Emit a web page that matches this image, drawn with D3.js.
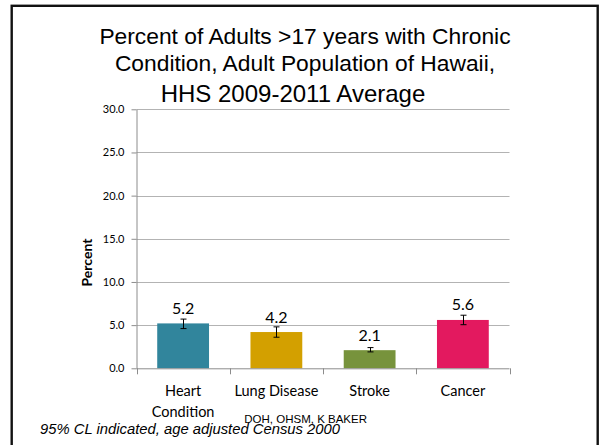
<!DOCTYPE html>
<html><head><meta charset="utf-8">
<script src="https://cdn.jsdelivr.net/npm/d3@7"></script>
<style>body{margin:0;background:#fff}svg{display:block}</style>
</head><body>
<svg id="c" width="600" height="445"></svg>
<script>
const categories = [["Heart", "Condition"], ["Lung Disease"], ["Stroke"], ["Cancer"]];
const values = [5.2, 4.2, 2.1, 5.6];
const ciLower = [4.6, 3.6, 1.9, 5.05];
const ciUpper = [5.7, 4.8, 2.4, 6.15];
const colors = ["#31859C", "#D3A000", "#77933C", "#E3195F"];
const yTicks = [0, 5, 10, 15, 20, 25, 30];
const titleLines = ["Percent of Adults >17 years with Chronic", "Condition, Adult Population of Hawaii,", "HHS 2009-2011 Average"];

(function () {
const svg = d3.select("#c");
// slide frame
svg.append("rect").attr("x", 11.7).attr("y", 5.8).attr("width", 586).attr("height", 460)
  .attr("fill", "none").attr("stroke", "#111").attr("stroke-width", 2.4);

const pLeft = 136.5, pRight = 509.5, pTop = 109.3, pBottom = 368.3;
const keys = categories.map((c, i) => i);
const x = d3.scaleBand().domain(keys).range([pLeft, pRight]).padding(0);
const y = d3.scaleLinear().domain([0, 30]).range([pBottom, pTop]);

// gridlines
svg.append("g").selectAll("line").data(yTicks.filter(t => t > 0)).join("line")
  .attr("x1", pLeft).attr("x2", pRight).attr("y1", d => Math.round(y(d)) + 0.5).attr("y2", d => Math.round(y(d)) + 0.5)
  .attr("stroke", "#B3B3B3").attr("stroke-width", 1);

// y axis
const yAxis = svg.append("g").attr("transform", `translate(${pLeft},0)`)
  .call(d3.axisLeft(y).tickValues(yTicks).tickSize(5).tickSizeOuter(0).tickPadding(7).tickFormat(d3.format(".1f")));
yAxis.select(".domain").attr("stroke", "#8C8C8C");
yAxis.selectAll(".tick line").attr("stroke", "#8C8C8C");
yAxis.selectAll("text").attr("font-family", "Lato, sans-serif").attr("font-size", 11).attr("fill", "#000");

// bars
const bw = x.bandwidth() / 1.8;
const off = (x.bandwidth() - bw) / 2;
svg.append("g").selectAll("rect").data(keys).join("rect")
  .attr("x", i => x(i) + off).attr("width", bw)
  .attr("y", i => y(values[i])).attr("height", i => y(0) - y(values[i]))
  .attr("fill", i => colors[i]);

// error bars
const eb = svg.append("g").attr("stroke", "#000").attr("stroke-width", 1);
keys.forEach(i => {
  const cx = Math.round(x(i) + x.bandwidth() / 2) + 0.5;
  eb.append("line").attr("x1", cx).attr("x2", cx).attr("y1", y(ciLower[i])).attr("y2", y(ciUpper[i]));
  eb.append("line").attr("x1", cx - 3).attr("x2", cx + 3).attr("y1", y(ciLower[i])).attr("y2", y(ciLower[i]));
  eb.append("line").attr("x1", cx - 3).attr("x2", cx + 3).attr("y1", y(ciUpper[i])).attr("y2", y(ciUpper[i]));
});

// value labels
svg.append("g").selectAll("text").data(keys).join("text")
  .attr("x", i => x(i) + x.bandwidth() / 2).attr("y", i => y(values[i]) - 9.5)
  .attr("text-anchor", "middle").attr("font-family", "Lato, sans-serif").attr("font-size", 16)
  .text(i => values[i].toFixed(1));

// x axis
const xAxisG = svg.append("g");
xAxisG.append("line").attr("x1", pLeft).attr("x2", pRight).attr("y1", pBottom + 0.5).attr("y2", pBottom + 0.5).attr("stroke", "#8C8C8C");
const bounds = keys.map(i => x(i)).concat([pRight]);
xAxisG.selectAll("line.t").data(bounds).join("line").attr("class", "t")
  .attr("x1", d => Math.round(d) + 0.5).attr("x2", d => Math.round(d) + 0.5)
  .attr("y1", pBottom).attr("y2", pBottom + 6).attr("stroke", "#8C8C8C");
keys.forEach(i => {
  const t = svg.append("text").attr("text-anchor", "middle").attr("font-family", "Lato, sans-serif")
    .attr("font-size", 14.5).attr("fill", "#000");
  categories[i].forEach((ln, k) => {
    t.append("tspan").attr("x", x(i) + x.bandwidth() / 2).attr("y", 395.7 + k * 20.8).text(ln);
  });
});

// y title
svg.append("text").attr("transform", "translate(91.5,262.5) rotate(-90)").attr("text-anchor", "middle")
  .attr("font-family", "Lato, sans-serif").attr("font-weight", "bold").attr("font-size", 14).text("Percent");

// title
const tcx = [305, 305, 293];
const tby = [44, 71, 101.5];
const tfs = [22.8, 22.8, 24];
titleLines.forEach((ln, k) => {
  svg.append("text").attr("x", tcx[k]).attr("y", tby[k]).attr("text-anchor", "middle")
    .attr("font-family", "'Liberation Sans', Arial, sans-serif").attr("font-size", tfs[k]).attr("fill", "#000").text(ln);
});

// footnotes
svg.append("text").attr("x", 244.3).attr("y", 423).attr("font-family", "'Liberation Sans', Arial, sans-serif")
  .attr("font-size", 11.5).text("DOH, OHSM, K BAKER");
svg.append("text").attr("x", 40).attr("y", 433.5).attr("font-family", "'Liberation Sans', Arial, sans-serif")
  .attr("font-style", "italic").attr("font-size", 14.8).text("95% CL indicated, age adjusted Census 2000");
})();
</script>
</body></html>
